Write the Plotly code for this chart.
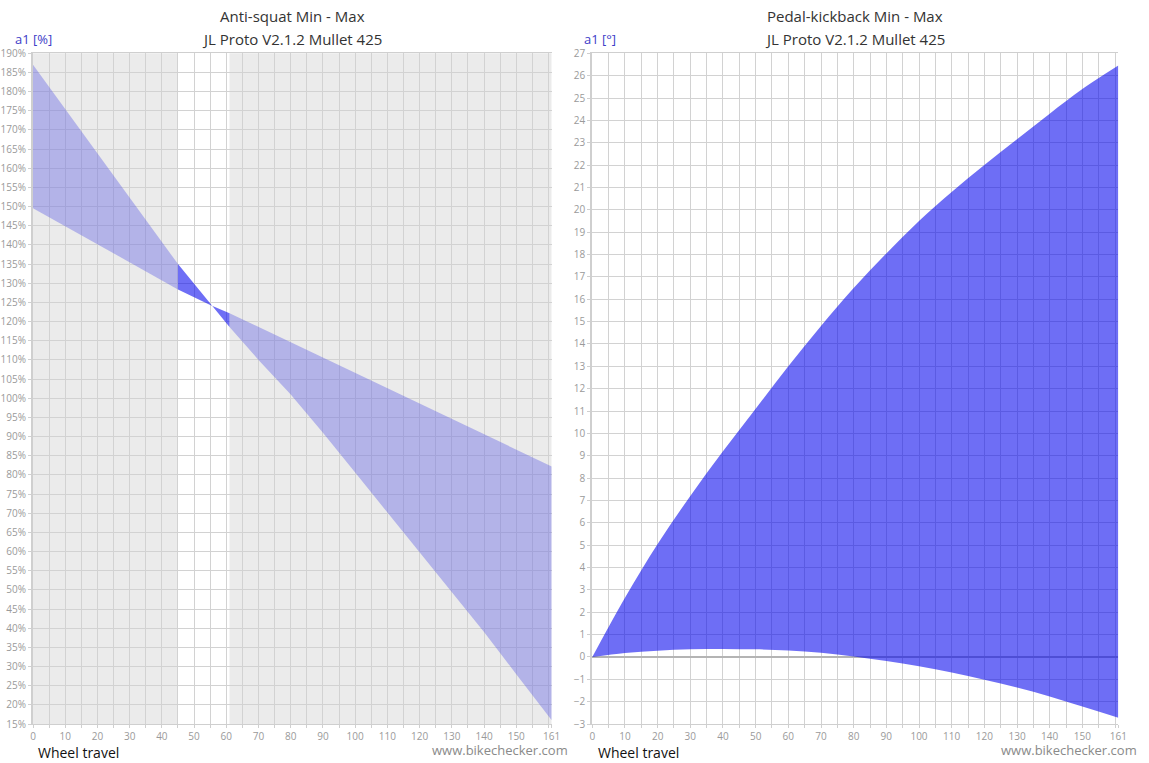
import plotly.graph_objects as go

# ---- Anti-squat (left panel) ----
as_travel = [0, 10, 20, 30, 40, 45, 50, 55, 61, 70, 80, 90, 100, 110, 120, 130, 140, 150, 161]
as_min = [149.6, 144.9, 140.2, 135.5, 130.8, 128.4, 126.3, 124.3, 122.2, 118.6, 114.6, 110.6,
          106.6, 102.6, 98.5, 94.5, 90.5, 86.5, 82.2]
as_max = [187.0, 175.4, 163.8, 152.3, 140.7, 135.0, 129.9, 124.6, 118.6, 110.0, 101.0, 91.0,
          80.6, 70.2, 59.8, 49.4, 39.0, 28.0, 16.0]
sag_zone = [45, 61]  # highlighted travel window

# ---- Pedal-kickback (right panel) ----
pk_travel = [0, 10, 20, 30, 40, 50, 60, 70, 80, 90, 100, 110, 120, 130, 140, 150, 161]
pk_min = [0.0, 0.18, 0.28, 0.34, 0.36, 0.34, 0.29, 0.19, 0.02, -0.18, -0.42, -0.70, -1.02,
          -1.37, -1.77, -2.22, -2.72]
pk_max = [0.0, 2.65, 5.05, 7.2, 9.2, 11.1, 13.0, 14.8, 16.5, 18.05, 19.5, 20.8, 22.0,
          23.15, 24.3, 25.4, 26.45]

# ---- Axis ticks ----
x_grid = list(range(0, 161, 5)) + [161]
x_labels = [str(v) if (v % 10 == 0 and v <= 150) or v == 161 else "" for v in x_grid]
as_ticks = list(range(15, 191, 5))
as_labels = [f"{v}%" for v in as_ticks]
pk_ticks = list(range(-3, 28))

LIGHT_FILL = "rgba(95,95,228,0.40)"
DARK_FILL = "rgba(0,0,237,0.57)"
GRID = "#d2d2d2"
TICK_FONT = dict(family="Open Sans", size=10, color="#9a9a9a")

fig = go.Figure()


def band(x, lo, hi, color, xa, ya, shape="linear"):
    fig.add_trace(go.Scatter(x=x, y=lo, mode="lines",
                             line=dict(width=0, color="rgba(0,0,0,0)", shape=shape),
                             hoverinfo="skip", showlegend=False, xaxis=xa, yaxis=ya))
    fig.add_trace(go.Scatter(x=x, y=hi, mode="lines",
                             line=dict(width=0, color="rgba(0,0,0,0)", shape=shape),
                             fill="tonexty", fillcolor=color, hoverinfo="skip",
                             showlegend=False, xaxis=xa, yaxis=ya))


i0 = as_travel.index(sag_zone[0])
i1 = as_travel.index(sag_zone[1])
band(as_travel[:i0 + 1], as_min[:i0 + 1], as_max[:i0 + 1], LIGHT_FILL, "x", "y")
band(as_travel[i0:i1 + 1], as_min[i0:i1 + 1], as_max[i0:i1 + 1], DARK_FILL, "x", "y")
band(as_travel[i1:], as_min[i1:], as_max[i1:], LIGHT_FILL, "x", "y")

band(pk_travel, pk_min, pk_max, DARK_FILL, "x2", "y2", shape="spline")

# grey background outside the sag window on the anti-squat panel
for x0, x1 in [(as_travel[0], sag_zone[0]), (sag_zone[1], as_travel[-1])]:
    fig.add_shape(type="rect", xref="x", yref="y domain", x0=x0, x1=x1, y0=0, y1=1,
                  fillcolor="#ebebeb", line=dict(width=0), layer="below")

xaxis_common = dict(range=[0, 161], tickvals=x_grid, ticktext=x_labels, tickangle=0,
                    showgrid=True, gridcolor=GRID, gridwidth=1, zeroline=False, showline=True,
                    linecolor="#cfcfcf", linewidth=1, mirror=True, ticks="outside",
                    ticklen=3, tickcolor="#cfcfcf", tickfont=TICK_FONT, fixedrange=True,
                    automargin=False)
yaxis_common = dict(showgrid=True, gridcolor=GRID, gridwidth=1, showline=True,
                    linecolor="#cfcfcf", linewidth=2, mirror=False, ticks="outside",
                    ticklen=3, tickcolor="#cfcfcf", tickfont=TICK_FONT, fixedrange=True,
                    automargin=False, ticklabelstandoff=0)

fig.update_layout(
    width=1149, height=763,
    margin=dict(l=0, r=0, t=0, b=0, autoexpand=False),
    paper_bgcolor="white", plot_bgcolor="white",
    font=dict(family="Open Sans"),
    xaxis=dict(domain=[33 / 1149, 551.7 / 1149], anchor="y", **xaxis_common),
    yaxis=dict(domain=[1 - 724 / 763, 1 - 53.3 / 763], anchor="x", range=[15, 190],
               tickvals=as_ticks, ticktext=as_labels, zeroline=False, **yaxis_common),
    xaxis2=dict(domain=[592.3 / 1149, 1118.3 / 1149], anchor="y2", **xaxis_common),
    yaxis2=dict(domain=[1 - 724 / 763, 1 - 53.3 / 763], anchor="x2", range=[-3, 27],
                tickvals=pk_ticks, zeroline=True, zerolinecolor="#b4b4b4", zerolinewidth=2,
                **yaxis_common),
)

TITLE_FONT = dict(family="Open Sans", size=15, color="#333333")
ann = []
for cx, line1 in [((33 + 551.7) / 2, "Anti-squat Min - Max"),
                  ((592.3 + 1118.3) / 2, "Pedal-kickback Min - Max")]:
    ann.append(dict(text=line1, x=cx / 1149, y=1 - 16 / 763, xanchor="center", yanchor="middle",
                    font=TITLE_FONT))
    ann.append(dict(text="JL Proto V2.1.2 Mullet 425", x=cx / 1149, y=1 - 39 / 763,
                    xanchor="center", yanchor="middle", font=TITLE_FONT))
for lx, unit in [(13, "a1 [%]"), (582, "a1 [°]")]:
    ann.append(dict(text=unit, x=lx / 1149, y=1 - 39 / 763, xanchor="left", yanchor="middle",
                    font=dict(family="Open Sans", size=13, color="#3c3cc8")))
for lx, rx in [(36, 570), (596, 1139)]:
    ann.append(dict(text="Wheel travel", x=lx / 1149, y=1 - 752 / 763, xanchor="left",
                    yanchor="middle", font=dict(family="Open Sans", size=14, color="#111111")))
    ann.append(dict(text="www.bikechecker.com", x=rx / 1149, y=1 - 750 / 763, xanchor="right",
                    yanchor="middle", font=dict(family="Open Sans", size=13, color="#8a8a8a")))
for a in ann:
    a.update(xref="paper", yref="paper", showarrow=False)
fig.update_layout(annotations=ann)

fig.write_html("out.html")
